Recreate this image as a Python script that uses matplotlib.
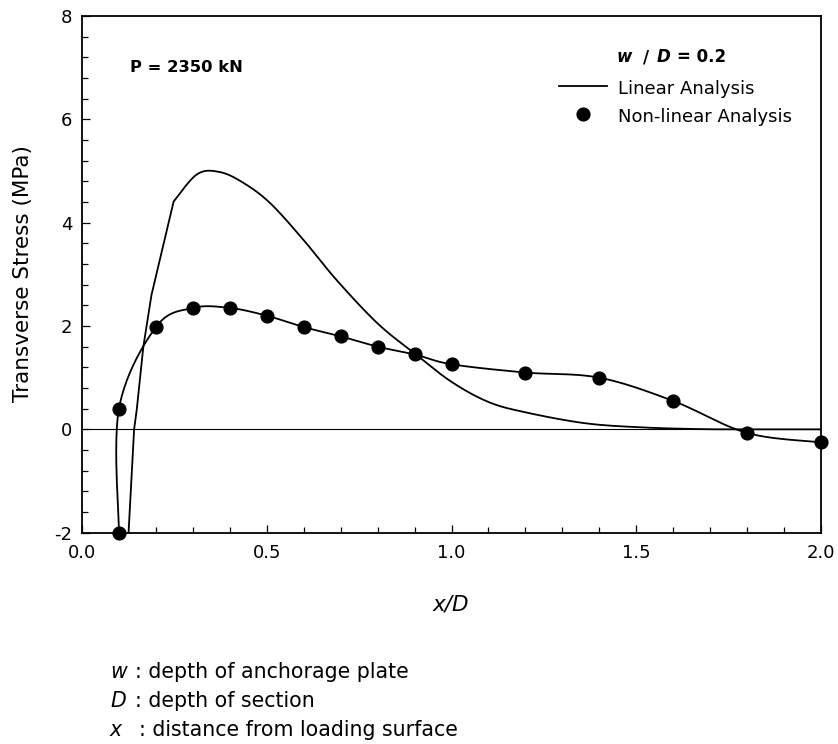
import numpy as np
import matplotlib.pyplot as plt
from matplotlib.lines import Line2D

# non-linear analysis (dots, joined by a smooth curve)
nl_x = [0.1, 0.1, 0.2, 0.3, 0.4, 0.5, 0.6, 0.7, 0.8, 0.9, 1.0, 1.2, 1.4, 1.6, 1.8, 2.0]
nl_y = [-2.0, 0.4, 1.98, 2.35, 2.35, 2.2, 1.98, 1.8, 1.6, 1.45, 1.26, 1.1, 1.0, 0.55, -0.07, -0.25]

# linear analysis (plain line); steep start is drawn straight, the rest smoothed
lin_x = [0.126, 0.141, 0.148, 0.166, 0.188, 0.248, 0.312, 0.373, 0.437, 0.509,
         0.599, 0.689, 0.80, 0.90, 1.00, 1.10, 1.20, 1.36, 1.51, 1.67, 1.80, 2.00]
lin_y = [-2.0, 0.0, 0.37, 1.60, 2.60, 4.41, 4.94, 4.98, 4.77, 4.38,
         3.67, 2.89, 2.05, 1.47, 0.92, 0.53, 0.33, 0.12, 0.04, 0.005, 0.0, 0.0]
n_straight = 6

xticks = [0.0, 0.5, 1.0, 1.5, 2.0]
yticks = [-2, 0, 2, 4, 6, 8]

W, H = 838, 744
plt.rcParams['font.family'] = ['DejaVu Sans']


def smooth(x, y, n=24, ys=0.14):
    # Catmull-Rom curve through the points, done in a roughly square space
    p = np.column_stack([np.asarray(x, float), np.asarray(y, float) * ys])
    p = np.vstack([p[0], p, p[-1]])
    t = np.linspace(0, 1, n, endpoint=False)[:, None]
    h00 = 2 * t**3 - 3 * t**2 + 1
    h10 = t**3 - 2 * t**2 + t
    h01 = -2 * t**3 + 3 * t**2
    h11 = t**3 - t**2
    out = []
    for i in range(1, len(p) - 2):
        m1 = (p[i + 1] - p[i - 1]) / 2
        m2 = (p[i + 2] - p[i]) / 2
        out.append(h00 * p[i] + h10 * m1 + h01 * p[i + 1] + h11 * m2)
    out.append(p[-2][None])
    q = np.vstack(out)
    return q[:, 0], q[:, 1] / ys


fig = plt.figure(figsize=(W / 100, H / 100), dpi=100)
ax = fig.add_axes([82 / W, 1 - 532.7 / H, (821 - 82) / W, (532.7 - 16) / H])

ax.axhline(0, color='black', lw=0.8, zorder=1)
lx, ly = smooth(lin_x[n_straight - 1:], lin_y[n_straight - 1:])
lx = np.concatenate([lin_x[:n_straight - 1], lx])
ly = np.concatenate([lin_y[:n_straight - 1], ly])
ax.plot(lx, ly, color='black', lw=1.3, zorder=2)
sx, sy = smooth(nl_x, nl_y)
ax.plot(sx, sy, color='black', lw=1.3, zorder=2)
ax.plot(nl_x, nl_y, 'o', color='black', ms=9.2, zorder=3, clip_on=False)

ax.set_xlim(0, 2)
ax.set_ylim(-2, 8)
ax.set_xticks(xticks)
ax.set_xticklabels([f"{v:.1f}" for v in xticks])
ax.set_yticks(yticks)
ax.set_yticklabels([str(v) for v in yticks])
ax.set_xticks(np.arange(0, 2.01, 0.1), minor=True)
ax.set_yticks(np.arange(-2, 8.01, 0.4), minor=True)
ax.tick_params(which='both', direction='in', top=False, right=False, width=0.9)
ax.tick_params(which='major', length=6, labelsize=13)
ax.tick_params(which='minor', length=4)
ax.tick_params(axis='x', pad=8)
ax.tick_params(axis='y', pad=7)
for s in ax.spines.values():
    s.set_linewidth(1.3)


def ftext(px, py, s, **kw):
    return fig.text(px / W, 1 - py / H, s, **kw)


ftext(23, 274, 'Transverse Stress (MPa)', rotation=90, ha='center', va='center', fontsize=15.5)
ftext(451, 610, 'x/D', style='italic', ha='center', va='baseline', fontsize=15.5)

ftext(130, 72, 'P = 2350 kN', weight='bold', fontsize=11.8, va='baseline')

# legend
ftext(617, 62, 'w', weight='bold', style='italic', fontsize=12, va='baseline')
ftext(643, 62, '/', weight='bold', fontsize=12, va='baseline')
ftext(657, 62, 'D', weight='bold', style='italic', fontsize=12, va='baseline')
ftext(677, 62, '= 0.2', weight='bold', fontsize=12, va='baseline')
fig.add_artist(Line2D([559 / W, 607 / W], [1 - 86 / H, 1 - 86 / H], color='black', lw=1.3))
ftext(618, 94, 'Linear Analysis', fontsize=13, va='baseline')
fig.add_artist(Line2D([583 / W], [1 - 114 / H], marker='o', color='black', ms=9.2, ls='none'))
ftext(618, 122, 'Non-linear Analysis', fontsize=13, va='baseline')

# notes
notes = [('w', ': depth of anchorage plate', 135, 678),
         ('D', ': depth of section', 135, 707),
         ('x', ': distance from loading surface', 139, 736)]
for letter, rest, rx, by in notes:
    ftext(110, by, letter, style='italic', fontsize=14.8, va='baseline')
    ftext(rx, by, rest, fontsize=14.8, va='baseline')

fig.savefig('out.png', dpi=100)
